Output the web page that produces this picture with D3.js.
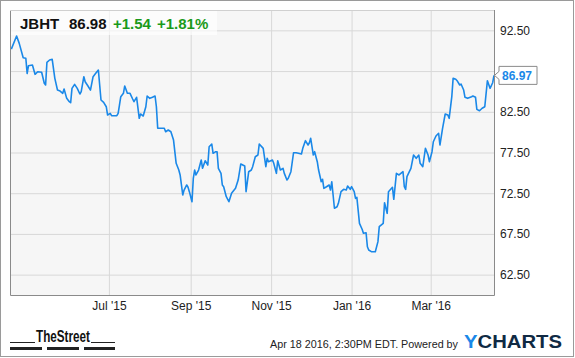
<!DOCTYPE html>
<html>
<head>
<meta charset="utf-8">
<script src="https://cdn.jsdelivr.net/npm/d3@7"></script>
<style>
  body { margin: 0; background: #fff; }
  svg { display: block; font-family: "Liberation Sans", Arial, sans-serif; }
</style>
</head>
<body>
<svg id="chart" width="575" height="358"></svg>
<script>
// JBHT daily close
const dates = [
  "2015-04-18","2015-04-22","2015-04-24","2015-04-27","2015-04-29","2015-04-30","2015-05-01","2015-05-04","2015-05-06","2015-05-08",
  "2015-05-11","2015-05-13","2015-05-14","2015-05-15","2015-05-17","2015-05-19","2015-05-21","2015-05-23","2015-05-25","2015-05-27",
  "2015-05-28","2015-05-30","2015-06-01","2015-06-02","2015-06-03","2015-06-05","2015-06-07","2015-06-09","2015-06-10","2015-06-12",
  "2015-06-13","2015-06-15","2015-06-17","2015-06-19","2015-06-21","2015-06-23","2015-06-24","2015-06-25","2015-06-27","2015-06-29",
  "2015-06-30","2015-07-02","2015-07-03","2015-07-07","2015-07-08","2015-07-09","2015-07-10","2015-07-12","2015-07-13","2015-07-15",
  "2015-07-17","2015-07-19","2015-07-20","2015-07-22","2015-07-24","2015-07-25","2015-07-27","2015-07-29","2015-07-30","2015-08-01",
  "2015-08-03","2015-08-05","2015-08-06","2015-08-07","2015-08-10","2015-08-12","2015-08-13","2015-08-15","2015-08-17","2015-08-19",
  "2015-08-21","2015-08-23","2015-08-24","2015-08-26","2015-08-27","2015-08-29","2015-08-30","2015-08-31","2015-09-02","2015-09-03",
  "2015-09-04","2015-09-05","2015-09-07","2015-09-09","2015-09-10","2015-09-12","2015-09-14","2015-09-15","2015-09-17","2015-09-18",
  "2015-09-20","2015-09-21","2015-09-22","2015-09-24","2015-09-25","2015-09-26","2015-09-28","2015-09-30","2015-10-02","2015-10-05",
  "2015-10-07","2015-10-09","2015-10-12","2015-10-13","2015-10-15","2015-10-17","2015-10-18","2015-10-20","2015-10-22","2015-10-23",
  "2015-10-26","2015-10-28","2015-10-29","2015-10-30","2015-11-02","2015-11-03","2015-11-05","2015-11-06","2015-11-08","2015-11-10",
  "2015-11-11","2015-11-13","2015-11-14","2015-11-16","2015-11-18","2015-11-20","2015-11-24","2015-11-25","2015-11-27","2015-11-29",
  "2015-11-30","2015-12-01","2015-12-03","2015-12-04","2015-12-06","2015-12-07","2015-12-09","2015-12-10","2015-12-11","2015-12-13",
  "2015-12-15","2015-12-16","2015-12-17","2015-12-19","2015-12-21","2015-12-22","2015-12-24","2015-12-26","2015-12-28","2015-12-29",
  "2015-12-31","2016-01-01","2016-01-03","2016-01-04","2016-01-05","2016-01-07","2016-01-09","2016-01-10","2016-01-12","2016-01-13",
  "2016-01-14","2016-01-16","2016-01-19","2016-01-21","2016-01-22","2016-01-25","2016-01-26","2016-01-28","2016-01-29","2016-02-01",
  "2016-02-02","2016-02-04","2016-02-06","2016-02-09","2016-02-10","2016-02-11","2016-02-12","2016-02-15","2016-02-17","2016-02-19",
  "2016-02-21","2016-02-22","2016-02-24","2016-02-26","2016-02-28","2016-02-29","2016-03-02","2016-03-03","2016-03-05","2016-03-07",
  "2016-03-08","2016-03-10","2016-03-12","2016-03-14","2016-03-15","2016-03-17","2016-03-18","2016-03-20","2016-03-21","2016-03-23",
  "2016-03-24","2016-03-26","2016-03-27","2016-03-29","2016-04-01","2016-04-02","2016-04-04","2016-04-05","2016-04-07","2016-04-09",
  "2016-04-11","2016-04-13","2016-04-15","2016-04-17","2016-04-18"
];
const prices = [
  90.2,91.8,90.9,89.14,89.07,87.2,88.16,88.24,87.1,87.42,
  87.35,86.0,85.79,88.58,88.86,88.94,86.61,85.17,85.05,84.77,
  85.3,84.15,83.74,83.61,85.38,85.87,85.38,84.68,84.97,86.81,
  86.19,85.7,85.17,86.81,87.22,87.63,85.79,83.95,83.66,83.12,
  82.1,82.31,82.02,82.02,82.31,83.33,84.35,84.77,85.67,84.77,
  84.77,84.07,83.74,84.28,81.7,82.23,81.98,83.12,84.44,84.15,
  84.28,84.44,83.12,80.47,80.47,80.47,80.05,80.26,80.05,79.03,
  76.17,75.35,74.74,72.28,72.89,73.51,73.23,72.69,71.46,74.33,
  75.35,74.74,75.35,76.58,75.56,76.49,75.96,78.21,78.54,77.4,
  77.6,77.6,75.56,74.94,73.51,73.3,72.07,71.46,72.49,73.1,
  74.12,76.09,75.84,72.69,75.14,75.35,75.76,76.98,77.19,78.54,
  78.01,75.76,76.79,76.37,76.58,76.17,74.94,76.49,75.35,75.56,
  74.94,74.12,74.33,75.14,77.47,77.47,77.31,78.01,78.95,78.42,
  78.7,79.24,77.19,77.6,76.37,75.35,73.91,74.21,73.1,73.3,
  73.51,72.89,73.91,70.65,70.84,71.26,72.69,72.98,72.89,73.39,
  72.98,73.3,72.69,71.87,72.0,68.8,68.07,67.58,67.65,65.93,
  65.53,65.32,65.32,66.55,68.39,68.8,71.33,70.03,72.69,73.23,
  71.75,74.94,74.74,75.14,73.3,72.98,74.53,75.56,77.19,76.79,
  77.19,76.17,75.76,78.01,77.19,76.37,77.6,78.82,79.53,79.86,
  78.42,80.47,82.23,82.1,81.7,84.35,86.61,86.49,86.32,85.79,
  85.91,85.17,84.28,84.15,84.35,84.44,84.28,82.8,82.63,82.93,
  83.12,86.32,85.38,86.07,86.97
];
const yTicks = [62.5, 67.5, 72.5, 77.5, 82.5, 87.5, 92.5];
const yLabelTicks = [62.5, 67.5, 72.5, 77.5, 82.5, 92.5];
const xTicks = ["2015-07-01", "2015-09-01", "2015-11-01", "2016-01-01", "2016-03-01"];
const ticker = "JBHT";
const lastPrice = "86.98";
const change = "+1.54";
const changePct = "+1.81%";
const lastLabel = "86.97";

const parse = d3.timeParse("%Y-%m-%d");
const data = dates.map((d, i) => ({ date: parse(d), value: prices[i] }));

const svg = d3.select('#chart');
const plotL = 10, plotT = 10, plotR = 494, plotB = 295;

const x = d3.scaleTime()
  .domain([parse("2015-04-17"), parse("2016-04-18")])
  .range([plotL, plotR]);
const y = d3.scaleLinear()
  .domain([60, 95])
  .range([plotB, plotT]);

// outer frame
svg.append('rect')
  .attr('x', 0.5).attr('y', 0.5).attr('width', 573).attr('height', 356)
  .attr('fill', '#fff').attr('stroke', '#9a9a9a');

// plot background
svg.append('rect')
  .attr('x', plotL).attr('y', plotT).attr('width', plotR - plotL).attr('height', plotB - plotT)
  .attr('fill', '#f6f6f6');

// gridlines
svg.append('g')
  .attr('transform', `translate(${plotL},0)`)
  .call(d3.axisLeft(y).tickValues(yTicks).tickSize(-(plotR - plotL)).tickFormat(''))
  .call(g => g.select('.domain').remove())
  .call(g => g.selectAll('line').attr('stroke', '#d8d8d8'));

svg.append('g')
  .attr('transform', `translate(0,${plotB})`)
  .call(d3.axisBottom(x).tickValues(xTicks.map(parse)).tickSize(-(plotB - plotT)).tickFormat(''))
  .call(g => g.select('.domain').remove())
  .call(g => g.selectAll('line').attr('stroke', '#d8d8d8'));

// header box
svg.append('rect')
  .attr('x', plotL).attr('y', plotT).attr('width', 207).attr('height', 25)
  .attr('fill', '#fff').attr('fill-opacity', 0.65);

// price line
const line = d3.line()
  .x(d => x(d.date))
  .y(d => y(d.value));

svg.append('path')
  .datum(data)
  .attr('fill', 'none')
  .attr('stroke', '#1a88e8')
  .attr('stroke-width', 1.6)
  .attr('stroke-linejoin', 'round')
  .attr('d', line);

// plot frame
svg.append('path')
  .attr('d', `M${plotL + 0.5},${plotT}V${plotB + 0.5}H${plotR + 0.5}V${plotT}`)
  .attr('fill', 'none')
  .attr('stroke', '#8a8a8a');
svg.append('line')
  .attr('x1', plotL).attr('x2', plotR).attr('y1', plotT + 0.5).attr('y2', plotT + 0.5)
  .attr('stroke', '#d0d0d0');

// y axis labels (right)
svg.append('g')
  .attr('transform', `translate(${plotR},0)`)
  .call(d3.axisRight(y).tickValues(yLabelTicks).tickSize(0).tickPadding(6).tickFormat(d3.format('.2f')))
  .call(g => g.select('.domain').remove())
  .call(g => g.selectAll('text')
    .attr('fill', '#222')
    .style('font-size', '12px')
    .style('font-family', '"Liberation Sans", Arial, sans-serif'));

// x axis labels
svg.append('g')
  .attr('transform', `translate(0,${plotB})`)
  .call(d3.axisBottom(x).tickValues(xTicks.map(parse)).tickSize(0).tickPadding(6).tickFormat(d3.timeFormat("%b '%y")))
  .call(g => g.select('.domain').remove())
  .call(g => g.selectAll('text')
    .attr('fill', '#222')
    .style('font-size', '12px')
    .style('font-family', '"Liberation Sans", Arial, sans-serif'));

// last value flag
const last = data[data.length - 1];
const ly = y(last.value);
const fx = plotR + 5;
svg.append('path')
  .attr('d', `M${plotR + 0.5},${ly}L${fx},${ly - 4}V${ly - 9}H${fx + 38}V${ly + 9}H${fx}V${ly + 4}Z`)
  .attr('fill', '#fff')
  .attr('stroke', '#8a8a8a');
svg.append('text')
  .attr('x', fx + 3).attr('y', ly + 4.5)
  .attr('fill', '#1a88e8')
  .style('font-size', '12px')
  .style('font-weight', 'bold')
  .text(lastLabel);

// header text
const header = svg.append('g').style('font-size', '15px').style('font-weight', 'bold');
header.append('text').attr('x', 20).attr('y', 28.5).attr('fill', '#111').text(ticker);
header.append('text').attr('x', 69).attr('y', 28.5).attr('fill', '#111').text(lastPrice);
header.append('text').attr('x', 113).attr('y', 28.5).attr('fill', '#1a9a1a').text(change);
header.append('text').attr('x', 157).attr('y', 28.5).attr('fill', '#1a9a1a').text(changePct);

// footer: TheStreet logo
svg.append('line').attr('x1', 10).attr('x2', 35).attr('y1', 342.5).attr('y2', 342.5).attr('stroke', '#222');
svg.append('line').attr('x1', 91).attr('x2', 115).attr('y1', 342.5).attr('y2', 342.5).attr('stroke', '#222');
svg.append('text')
  .attr('x', 36).attr('y', 342)
  .attr('textLength', 54).attr('lengthAdjust', 'spacingAndGlyphs')
  .attr('fill', '#111')
  .style('font-size', '17px').style('font-weight', 'bold')
  .style('font-family', '"Liberation Sans Narrow", "Liberation Sans", sans-serif')
  .text('TheStreet');
[[10, 42], [47, 79], [84, 115]].forEach(([a, b]) => {
  svg.append('rect').attr('x', a).attr('y', 347).attr('width', b - a).attr('height', 3).attr('fill', '#222');
});

// footer: timestamp + YCharts
svg.append('text')
  .attr('x', 270).attr('y', 348)
  .attr('textLength', 188).attr('lengthAdjust', 'spacingAndGlyphs')
  .attr('fill', '#222')
  .style('font-size', '10.8px')
  .text('Apr 18 2016, 2:30PM EDT. Powered by');
const yc = svg.append('text')
  .attr('x', 464).attr('y', 348)
  .attr('textLength', 98).attr('lengthAdjust', 'spacingAndGlyphs')
  .style('font-size', '18px').style('font-weight', 'bold');
yc.append('tspan').attr('fill', '#1a88e8').text('Y');
yc.append('tspan').attr('fill', '#102a43').text('CHARTS');
</script>
</body>
</html>
